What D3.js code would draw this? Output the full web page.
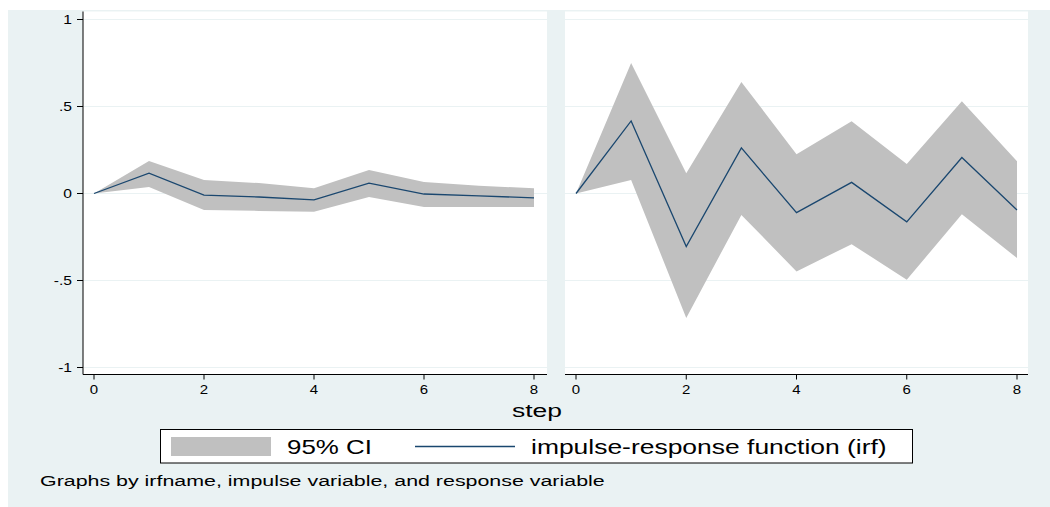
<!DOCTYPE html>
<html>
<head>
<meta charset="utf-8">
<script src="https://cdn.jsdelivr.net/npm/d3@7/dist/d3.min.js"></script>
<style>
html,body{margin:0;padding:0;background:#fff;}
svg{display:block;}
text{font-family:"Liberation Sans",Arial,Helvetica,sans-serif;fill:#000;}
</style>
</head>
<body>
<svg id="chart" width="1050" height="507"></svg>
<script>
// ---- data ----
const steps = [0, 1, 2, 3, 4, 5, 6, 7, 8];
const xTicks = [0, 2, 4, 6, 8];
const yTicks = [1, 0.5, 0, -0.5, -1];
const yTickLabels = ["1", ".5", "0", "-.5", "-1"];

const leftIrf = [0, 0.117, -0.009, -0.020, -0.037, 0.060, -0.003, -0.014, -0.025];
const leftLo  = [0, 0.037, -0.095, -0.100, -0.105, -0.020, -0.077, -0.077, -0.078];
const leftHi  = [0, 0.187, 0.077, 0.060, 0.030, 0.135, 0.066, 0.045, 0.030];

const rightIrf = [0, 0.417, -0.305, 0.262, -0.110, 0.064, -0.163, 0.207, -0.095];
const rightLo  = [0, 0.077, -0.715, -0.123, -0.448, -0.291, -0.496, -0.119, -0.371];
const rightHi  = [0, 0.750, 0.116, 0.641, 0.226, 0.415, 0.169, 0.530, 0.186];

const legendLabels = ["95% CI", "impulse-response function (irf)"];
const xTitle = "step";
const note = "Graphs by irfname, impulse variable, and response variable";

// ---- styling ----
const BG = "#eaf2f3", CI = "#c0c0c0", LINE = "#1a476f", GRID = "#eaf2f3";

const svg = d3.select("#chart");
svg.append("rect").attr("x", 8).attr("y", 10).attr("width", 1042).attr("height", 497).attr("fill", BG);

const y = d3.scaleLinear().domain([-1, 1]).range([367.5, 19.5]);
const panelTop = 11.5, panelBot = 374.5;

// stretched text helper (reference text is horizontally stretched)
function stext(g, str, x, yy, size, anchor, sx, target) {
  const t = g.append("text").attr("font-size", size).attr("text-anchor", anchor).text(str);
  let s = sx;
  if (target) { const w = t.node().getComputedTextLength(); s = target / w; }
  t.attr("transform", `translate(${x},${yy}) scale(${s},1)`);
  return t;
}

const panels = [
  {x0: 83, x1: 547, range: [94, 534], irf: leftIrf, lo: leftLo, hi: leftHi, yaxis: true},
  {x0: 565, x1: 1028, range: [576, 1017], irf: rightIrf, lo: rightLo, hi: rightHi, yaxis: false}
];

panels.forEach(p => {
  const x = d3.scaleLinear().domain([0, 8]).range(p.range);
  const g = svg.append("g");
  g.append("rect").attr("x", p.x0).attr("y", panelTop).attr("width", p.x1 - p.x0)
    .attr("height", panelBot - panelTop).attr("fill", "#fff");
  // gridlines
  g.selectAll(".grid").data(yTicks).join("line")
    .attr("x1", p.x0).attr("x2", p.x1)
    .attr("y1", d => y(d)).attr("y2", d => y(d))
    .attr("stroke", GRID).attr("stroke-width", 1.2);
  // CI band
  const area = d3.area().x((d, i) => x(steps[i])).y0((d, i) => y(p.lo[i])).y1((d, i) => y(p.hi[i]));
  g.append("path").datum(steps).attr("d", area).attr("fill", CI);
  // irf line
  const line = d3.line().x((d, i) => x(steps[i])).y((d, i) => y(p.irf[i]));
  g.append("path").datum(steps).attr("d", line).attr("fill", "none")
    .attr("stroke", LINE).attr("stroke-width", 1.3).attr("stroke-linejoin", "miter");
  // x axis
  g.append("line").attr("x1", p.x0).attr("x2", p.x1).attr("y1", panelBot).attr("y2", panelBot)
    .attr("stroke", "#000").attr("stroke-width", 1);
  xTicks.forEach(t => {
    g.append("line").attr("x1", x(t)).attr("x2", x(t)).attr("y1", panelBot).attr("y2", panelBot + 5)
      .attr("stroke", "#000").attr("stroke-width", 1);
    stext(g, String(t), x(t), 394, 12.5, "middle", 1.2);
  });
  if (p.yaxis) {
    g.append("line").attr("x1", p.x0).attr("x2", p.x0).attr("y1", panelTop).attr("y2", panelBot)
      .attr("stroke", "#000").attr("stroke-width", 1);
    yTicks.forEach((t, i) => {
      g.append("line").attr("x1", p.x0 - 6).attr("x2", p.x0).attr("y1", y(t)).attr("y2", y(t))
        .attr("stroke", "#000").attr("stroke-width", 1);
      stext(g, yTickLabels[i], 72, y(t) + 4.5, 12.5, "end", 1.25);
    });
  }
});

// x title
stext(svg, xTitle, 537, 417, 18, "middle", null, 50);

// legend
const lg = svg.append("g");
lg.append("rect").attr("x", 160.5).attr("y", 429.5).attr("width", 752).attr("height", 33.5)
  .attr("fill", "#fff").attr("stroke", "#000").attr("stroke-width", 1);
lg.append("rect").attr("x", 171).attr("y", 437).attr("width", 100).attr("height", 19).attr("fill", CI);
stext(lg, legendLabels[0], 287, 453.5, 20, "start", null, 85);
lg.append("line").attr("x1", 415).attr("x2", 515).attr("y1", 446.5).attr("y2", 446.5)
  .attr("stroke", LINE).attr("stroke-width", 1.3);
stext(lg, legendLabels[1], 531, 453.5, 20, "start", null, 356);

// note
stext(svg, note, 40, 486, 15, "start", null, 565);
</script>
</body>
</html>
